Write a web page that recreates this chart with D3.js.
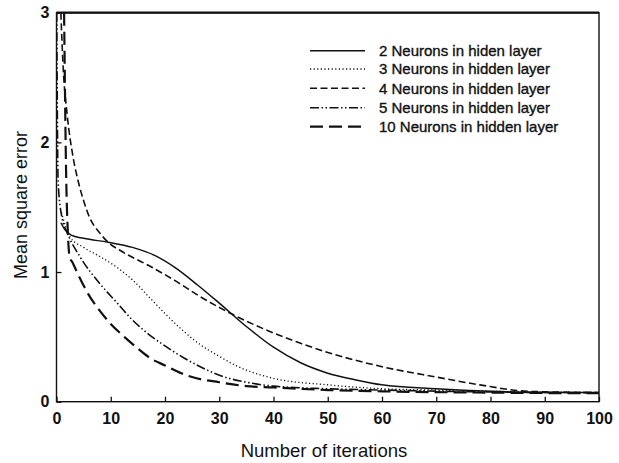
<!DOCTYPE html>
<html><head><meta charset="utf-8">
<script src="https://cdn.jsdelivr.net/npm/d3@7"></script>
<style>body{margin:0;background:#fff}svg{display:block}text{font-family:"Liberation Sans",Arial,sans-serif;fill:#111}</style>
</head><body>
<svg id="c" width="619" height="463"></svg>
<script>
const xTicks = [0,10,20,30,40,50,60,70,80,90,100];
const yTicks = [0,1,2,3];
const seriesNames = ["2 Neurons in hiden layer","3 Neurons in hidden layer","4 Neurons in hidden layer","5 Neurons in hidden layer","10 Neurons in hidden layer"];
const n2x = [0.8,1.5,2.7,5,9.5,14,18,22,26,30,35,40,45,50,55,60,70,80,90,100];
const n2y = [1.38,1.33,1.285,1.26,1.23,1.19,1.13,1.03,0.90,0.76,0.58,0.42,0.30,0.22,0.17,0.13,0.10,0.08,0.07,0.07];
const n3x = [0.9,2.5,5,8,11,14,17,20,23,26.5,30,33,40,50,60,70,80,90,100];
const n3y = [1.46,1.27,1.19,1.12,1.04,0.94,0.81,0.68,0.56,0.44,0.35,0.28,0.18,0.13,0.10,0.09,0.08,0.075,0.07];
const n4x = [0.8,1.2,2,3,4,5,6,8,9.5,12,17,22,26.5,32.6,40,45,50,60,70,78,87,100];
const n4y = [3.0,2.6,2.2,1.9,1.7,1.55,1.43,1.30,1.23,1.16,1.05,0.93,0.81,0.67,0.53,0.45,0.38,0.27,0.19,0.13,0.08,0.07];
const n5x = [0.05,0.3,1,2,4.3,8,11,14,17,20,23,26.5,31,35,40,50,60,80,100];
const n5y = [3.0,1.7,1.42,1.3,1.12,0.91,0.77,0.63,0.52,0.43,0.35,0.27,0.19,0.15,0.12,0.10,0.09,0.075,0.07];
const n10x = [1.4,1.8,2.1,2.4,3,4,6,8,10,12.5,15,17.5,20,23,25,30,35,40,50,60,80,100];
const n10y = [3.0,1.7,1.3,1.12,1.07,0.98,0.82,0.70,0.60,0.50,0.41,0.33,0.28,0.22,0.19,0.15,0.12,0.11,0.09,0.08,0.07,0.065];

const xs=[n2x,n3x,n4x,n5x,n10x], ys=[n2y,n3y,n4y,n5y,n10y];
const dashes=["none","1.2,2.4","7,3.5","9,2.5,1.5,2.5,1.5,2.5","13,6"];
const widths=[1.5,1.3,1.6,1.6,2.2];

const svg=d3.select("#c");
const L=56.5,R=599,T=12.7,B=401.7;
const x=d3.scaleLinear().domain([0,100]).range([L,R]);
const y=d3.scaleLinear().domain([0,3]).range([B,T]);

svg.append("defs").append("clipPath").attr("id","clip").append("rect")
  .attr("x",L).attr("y",T).attr("width",R-L).attr("height",B-T);

const gx=svg.append("g").attr("transform",`translate(0,${B})`)
  .call(d3.axisBottom(x).tickValues(xTicks).tickSize(-5).tickPadding(11).tickFormat(d3.format("d")));
const gy=svg.append("g").attr("transform",`translate(${L},0)`)
  .call(d3.axisLeft(y).tickValues(yTicks).tickSize(-5).tickPadding(7).tickFormat(d3.format("d")));
[gx,gy].forEach(g=>{g.select(".domain").remove();g.selectAll("line").attr("stroke","#111").attr("stroke-width",1.3);
  g.selectAll("text").style("font-size","16px").style("font-weight","bold").attr("fill","#111");});

svg.append("rect").attr("x",L).attr("y",T).attr("width",R-L).attr("height",B-T)
  .attr("fill","none").attr("stroke","#111").attr("stroke-width",1.4);
svg.append("line").attr("x1",L).attr("x2",R).attr("y1",T).attr("y2",T).attr("stroke","#111").attr("stroke-width",2.2);

const line=d3.line().x(d=>x(d[0])).y(d=>y(d[1])).curve(d3.curveMonotoneX);
const pg=svg.append("g").attr("clip-path","url(#clip)");
for(let i=0;i<5;i++){
  const data=xs[i].map((v,j)=>[v,ys[i][j]]);
  pg.append("path").attr("d",line(data)).attr("fill","none").attr("stroke","#111")
    .attr("stroke-width",widths[i]).attr("stroke-dasharray",dashes[i]);
}

const lg=svg.append("g");
const rowY=[50.7,69,88.3,107.7,126.7];
seriesNames.forEach((s,i)=>{
  lg.append("line").attr("x1",310).attr("x2",365).attr("y1",rowY[i]).attr("y2",rowY[i])
    .attr("stroke","#111").attr("stroke-width",widths[i]).attr("stroke-dasharray",dashes[i]);
  lg.append("text").attr("x",379).attr("y",rowY[i]+5.4).style("font-size","15px")
    .attr("stroke","#111").attr("stroke-width",0.35).text(s);
});

svg.append("text").attr("x",324).attr("y",457).attr("text-anchor","middle").style("font-size","18.5px").text("Number of iterations");
svg.append("text").attr("transform",`translate(27,205) rotate(-90)`).attr("text-anchor","middle").style("font-size","18px").text("Mean square error");
</script>
</body></html>
